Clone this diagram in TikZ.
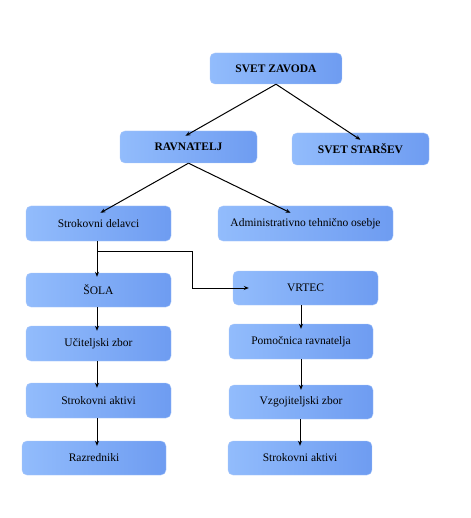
\documentclass[tikz,border=0pt]{standalone}
\usepackage{fontspec}
\setmainfont{Liberation Serif}
\usetikzlibrary{arrows.meta,calc}
\definecolor{boxlight}{RGB}{146,188,252}
\definecolor{boxdark}{RGB}{110,156,241}
\definecolor{boxedge}{RGB}{170,200,250}
\tikzset{
	unit/.style={rounded corners=5pt, left color=boxlight, right color=boxdark, draw=boxedge, thin, font=\fontsize{11.5}{13}\selectfont, minimum width=145pt, minimum height=35pt, inner sep=2pt},
	head/.style={unit, font=\fontsize{11.5}{13}\selectfont\bfseries, minimum height=32pt},
	link/.style={-{Stealth[length=5pt,width=4pt]}, line width=1pt}
}
\begin{document}
\begin{tikzpicture}[x=1pt,y=-1pt]
		\useasboundingbox (0,0) rectangle (470,518);
		% vodstvo
		\node[head, minimum width=132pt, minimum height=31pt] (zavod) at (276,68.5) {SVET ZAVODA};
		\node[head, minimum width=137pt] (ravnatelj) at (188.5,147) {RAVNATELJ};
		\node[head, minimum width=137pt] (starsi) at (360.5,149) {SVET STARŠEV};
		\node[unit] (delavci) at (98.5,223.5) {Strokovni delavci};
		\node[unit, minimum width=175pt] (admin) at (305.5,223.5) {Administrativno tehnično osebje};
		% sola
		\node[unit, minimum height=34pt] (sola) at (98.5,290) {ŠOLA};
		\node[unit] (ucitelji) at (98.5,343.5) {Učiteljski zbor};
		\node[unit] (aktivi) at (98.5,400.5) {Strokovni aktivi};
		\node[unit, minimum width=144pt, minimum height=34pt] (razredniki) at (94,458) {Razredniki};
		% vrtec
		\node[unit, minimum height=34pt] (vrtec) at (305.5,288) {VRTEC};
		\node[unit, minimum width=144pt] (pomocnica) at (301,341.5) {Pomočnica ravnatelja};
		\node[unit, minimum width=144pt, minimum height=34pt] (vzgojitelji) at (301,402) {Vzgojiteljski zbor};
		\node[unit, minimum width=144pt, minimum height=34pt] (aktivi2) at (300,458) {Strokovni aktivi};

		\draw[link] (zavod.south) -- ([xshift=-3pt,yshift=-5pt]ravnatelj.north);
		\draw[link] (zavod.south) -- ([yshift=-7pt]starsi.north);
		\draw[link] (ravnatelj.south) -- ([xshift=2pt,yshift=-7pt]delavci.north);
		\draw[link] (ravnatelj.south) -- ([xshift=-15pt,yshift=-7pt]admin.north);
		\draw[link] ([xshift=-1.5pt]delavci.south) -- ([xshift=-1.5pt,yshift=-4pt]sola.north);
		\draw[link] ([xshift=-1.5pt,yshift=-10pt]delavci.south) -- ++(95,0) |- ([xshift=16pt]vrtec.west);
		\foreach \a/\b in {sola/ucitelji, ucitelji/aktivi, aktivi/razredniki}
			\draw[link] ([xshift=-1.5pt]\a.south) -- ($(\b.north -| \a.south)+(-1.5,5)$);
		\foreach \a/\b in {vrtec/pomocnica, pomocnica/vzgojitelji, vzgojitelji/aktivi2}
			\draw[link] (\a.south -| \b.north) -- ([yshift=-5pt]\b.north);
\end{tikzpicture}
\end{document}
